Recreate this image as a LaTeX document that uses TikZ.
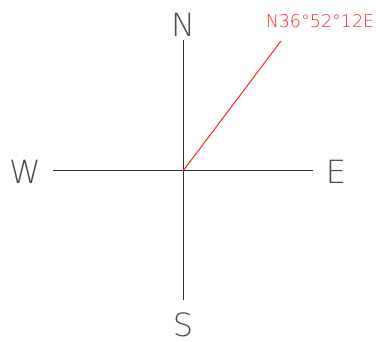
\documentclass[tikz,border=0pt]{standalone}
\usepackage{fontspec}
\setmainfont{DejaVu Sans}[UprightFont=* ExtraLight]
\begin{document}
\begin{tikzpicture}[x=1pt,y=-1pt,
  axis/.style={draw=black!80,line width=1pt},
  lbl/.style={text=black!70,font=\fontsize{32}{32}\selectfont,inner sep=0pt},
  redlbl/.style={text=red!85!white,font=\fontsize{17.5}{18}\selectfont,inner sep=0pt}]
\useasboundingbox (0,0) rectangle (376,342);
\coordinate (c) at (183,171);
\coordinate (nt) at (183,40);
\coordinate (sb) at (183,300);
\coordinate (wl) at (53,171);
\coordinate (er) at (313,171);
\coordinate (r) at (281,41);
\draw[axis] (nt) -- (sb);
\draw[axis] (wl) -- (er);
\draw[draw=red!85!white,line width=1pt] (c) -- (r);
\node[lbl] (N) at (183,25) {N};
\node[lbl,anchor=base] (S) at (183,337) {S};
\node[lbl] (W) at (25,172) {W};
\node[lbl] (E) at (336,172) {E};
\node[redlbl] (t) at (320,21) {N36°52°12E};
\end{tikzpicture}
\end{document}
